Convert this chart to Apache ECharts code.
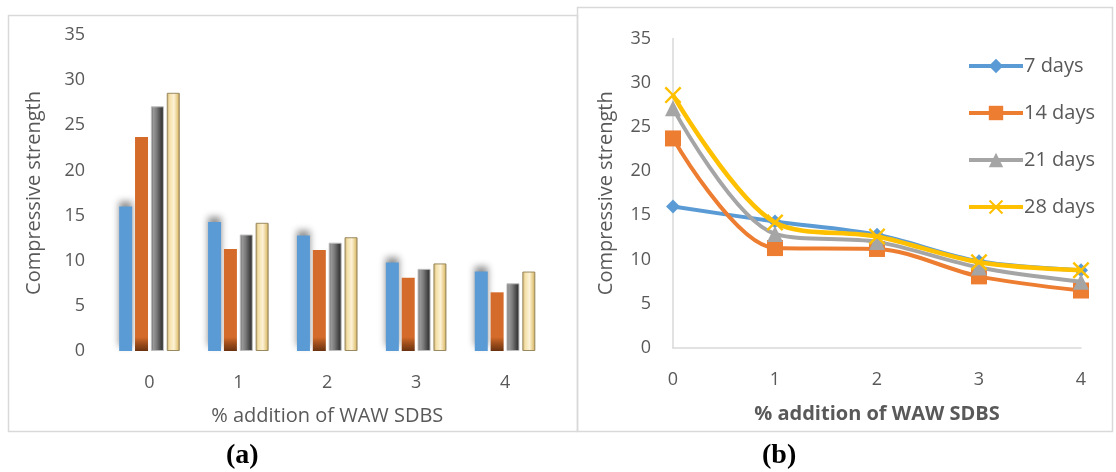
<!DOCTYPE html>
<html>
<head>
<meta charset="utf-8">
<script src="https://cdn.jsdelivr.net/npm/echarts@6/dist/echarts.min.js"></script>
<style>
html,body{margin:0;padding:0;background:#fff;}
#c{width:1116px;height:472px;}
</style>
</head>
<body>
<div id="c"></div>
<script>
// ---- data ----
var categories = ['0', '1', '2', '3', '4'];
var seriesNames = ['7 days', '14 days', '21 days', '28 days'];
var days7  = [16.0, 14.3, 12.8, 9.8, 8.8];
var days14 = [23.7, 11.3, 11.2, 8.1, 6.5];
var days21 = [27.1, 12.9, 12.0, 9.1, 7.5];
var days28 = [28.6, 14.2, 12.6, 9.7, 8.8];
var yTicks = [0, 5, 10, 15, 20, 25, 30, 35];
var xAxisTitle = '% addition of WAW SDBS';
var yAxisTitle = 'Compressive strength';
var captions = ['(a)', '(b)'];

var allData = [days7, days14, days21, days28];
var FONT = '"Open Sans", "Noto Sans", sans-serif';
var TXT = '#595959';
var G = echarts.graphic;

var chart = echarts.init(document.getElementById('c'), null, {renderer: 'canvas'});

var barStyles = [
  {color: '#5b9bd5', shadowColor: 'rgba(0,0,0,0.45)', shadowBlur: 7, shadowOffsetY: -5},
  {color: new G.LinearGradient(0, 337, 0, 351, [
      {offset: 0, color: '#d46b2a'}, {offset: 0.5, color: '#9c4c1a'}, {offset: 1, color: '#6a3210'}], true)},
  {color: new G.LinearGradient(0, 0, 1, 0, [
      {offset: 0, color: '#5a5a5a'}, {offset: 0.18, color: '#9a9a9a'}, {offset: 0.45, color: '#7a7a7a'},
      {offset: 0.78, color: '#444'}, {offset: 1, color: '#2a2a2a'}]),
   borderColor: '#bdbdbd', borderWidth: 1},
  {color: new G.LinearGradient(0, 0, 1, 0, [
      {offset: 0, color: '#c2a566'}, {offset: 0.2, color: '#f3dfa6'}, {offset: 0.55, color: '#fdf2d6'},
      {offset: 0.85, color: '#e3c77e'}, {offset: 1, color: '#a68a4c'}]),
   borderColor: '#9a8a60', borderWidth: 1}
];

var lineColors = ['#5b9bd5', '#ed7d31', '#a5a5a5', '#ffc000'];
var lineSymbols = [
  'path://M5,0 L10,5 L5,10 L0,5 Z',
  'rect',
  'triangle',
  'path://M0,1 L1,0 L5,4 L9,0 L10,1 L6,5 L10,9 L9,10 L5,6 L1,10 L0,9 L4,5 Z'
];
var lineSymbolSizes = [14, 16, 16, 17];
var lineWidths = [4, 4, 4, 4.5];

var series = [];
allData.forEach(function (d, i) {
  series.push({
    name: 'bar ' + seriesNames[i],
    type: 'bar',
    xAxisIndex: 0, yAxisIndex: 0,
    data: d,
    barWidth: 13,
    barGap: '22%',
    itemStyle: barStyles[i],
    emphasis: {disabled: true}
  });
});
allData.forEach(function (d, i) {
  series.push({
    name: seriesNames[i],
    type: 'line',
    xAxisIndex: 1, yAxisIndex: 1,
    data: d,
    smooth: 0.32,
    symbol: lineSymbols[i],
    symbolSize: lineSymbolSizes[i],
    lineStyle: {color: lineColors[i], width: lineWidths[i]},
    itemStyle: {color: lineColors[i]},
    z: 2 + i
  });
});

var axisLabel = {color: TXT, fontSize: 18, fontFamily: FONT};
var titleStyle = {color: TXT, fontSize: 20, fontFamily: FONT};

var option = {
  animation: false,
  backgroundColor: '#fff',
  grid: [
    {left: 105, right: 1116 - 549.5, top: 35, bottom: 472 - 351},
    {left: 673, right: 1116 - 1081, top: 38.5, bottom: 472 - 348}
  ],
  legend: {
    data: seriesNames,
    orient: 'vertical',
    left: 962, top: 51,
    itemWidth: 54, itemHeight: 18,
    itemGap: 27,
    lineStyle: {width: 4},
    textStyle: {color: TXT, fontSize: 20, fontFamily: FONT, padding: [0, 0, 0, -4]},
    selectedMode: false
  },
  xAxis: [
    {
      type: 'category', gridIndex: 0, data: categories, boundaryGap: true,
      axisLine: {show: false}, axisTick: {show: false},
      axisLabel: Object.assign({margin: 23}, axisLabel),
      name: xAxisTitle, nameLocation: 'middle', nameGap: 55,
      nameTextStyle: titleStyle
    },
    {
      type: 'category', gridIndex: 1, data: categories, boundaryGap: false,
      axisLine: {show: true, lineStyle: {color: '#d9d9d9', width: 1.5}}, axisTick: {show: false},
      axisLabel: Object.assign({margin: 23}, axisLabel),
      name: xAxisTitle, nameLocation: 'middle', nameGap: 56,
      nameTextStyle: Object.assign({fontWeight: 'bold'}, titleStyle)
    }
  ],
  yAxis: [
    {
      type: 'value', gridIndex: 0, min: yTicks[0], max: yTicks[yTicks.length - 1], interval: 5,
      axisLine: {show: false}, axisTick: {show: false}, splitLine: {show: false},
      axisLabel: Object.assign({margin: 20}, axisLabel),
      name: yAxisTitle, nameLocation: 'middle', nameGap: 61,
      nameTextStyle: titleStyle
    },
    {
      type: 'value', gridIndex: 1, min: yTicks[0], max: yTicks[yTicks.length - 1], interval: 5,
      axisLine: {show: true, lineStyle: {color: '#d9d9d9', width: 1.5}}, axisTick: {show: false}, splitLine: {show: false},
      axisLabel: Object.assign({margin: 22}, axisLabel),
      name: yAxisTitle, nameLocation: 'middle', nameGap: 57,
      nameTextStyle: titleStyle
    }
  ],
  graphic: [
    {type: 'rect', shape: {x: 8.5, y: 15.5, width: 569, height: 416}, style: {fill: 'none', stroke: '#d9d9d9', lineWidth: 1.5}, silent: true, z: -1},
    {type: 'rect', shape: {x: 577.5, y: 7.5, width: 535, height: 424}, style: {fill: 'none', stroke: '#d9d9d9', lineWidth: 1.5}, silent: true, z: -1},
    {type: 'text', left: 226, top: 442, style: {text: captions[0], font: 'bold 28px "Liberation Serif", "DejaVu Serif", serif', fill: '#000'}},
    {type: 'text', left: 762, top: 442, style: {text: captions[1], font: 'bold 28px "Liberation Serif", "DejaVu Serif", serif', fill: '#000'}}
  ],
  series: series
};
chart.setOption(option);
</script>
</body>
</html>
